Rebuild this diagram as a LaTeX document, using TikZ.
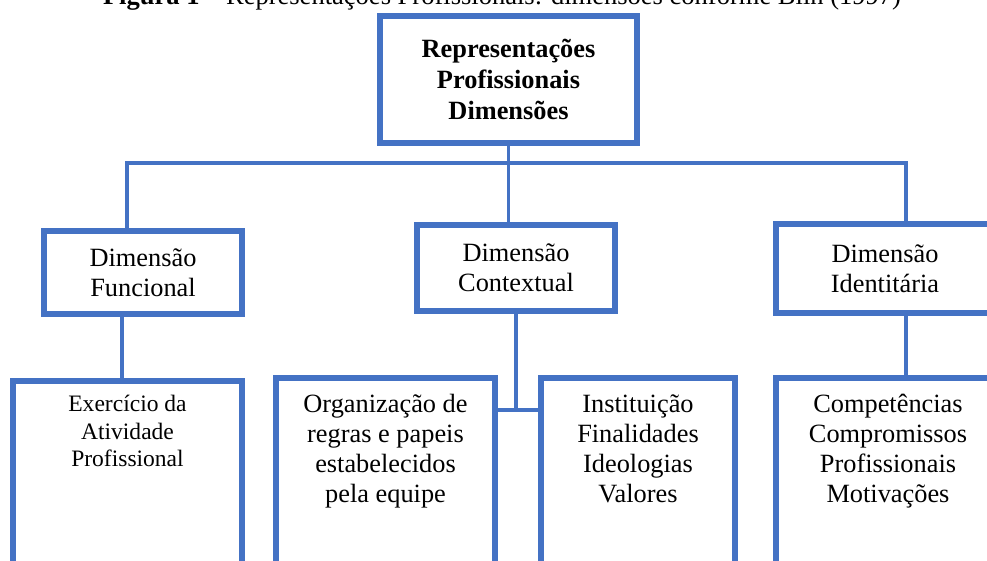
\documentclass[tikz,border=0pt]{standalone}
\usepackage{fontspec}
\setmainfont{Liberation Serif}
\definecolor{boxblue}{HTML}{4472C4}
\usetikzlibrary{positioning}

\begin{document}
\begin{tikzpicture}[x=0.02cm, y=-0.02cm,
  dimbox/.style={draw=boxblue, line width=0.12cm, align=center, inner sep=0pt,
    font=\fontsize{15}{17}\selectfont},
  itembox/.style={draw=boxblue, line width=0.12cm, anchor=north, minimum height=5cm},
  itemtext/.style={align=center, inner sep=0pt, font=\fontsize{15}{17.1}\selectfont},
  link/.style={draw=boxblue, line width=0.066cm}]
  \clip (0,0) rectangle (987,561);
  % caption, cut by the top edge
  \node[anchor=base, inner sep=0pt, font=\fontsize{15.1}{17}\selectfont] (caption) at (502,5)
    {\textbf{Figura 1} – Representações Profissionais: dimensões conforme Blin (1997)};
  % root and the three dimensions
  \node[dimbox, font=\fontsize{15}{17.6}\selectfont\bfseries,
    minimum width=5.14cm, minimum height=2.54cm] (root) at (508.5,79.5)
    {Representações\\Profissionais\\Dimensões};
  \node[dimbox, minimum width=3.96cm, minimum height=1.66cm] (func) at (143,272.5)
    {Dimensão\\Funcional};
  \node[dimbox, minimum width=3.96cm, minimum height=1.72cm] (ctx) at (516,268)
    {Dimensão\\Contextual};
  \node[dimbox, minimum width=4.36cm, minimum height=1.78cm] (ident) at (885,268.5)
    {Dimensão\\Identitária};
  % lower boxes, open at the bottom edge
  \node[itembox, minimum width=4.58cm] (exer) at (127.5,378) {};
  \node[itemtext, font=\fontsize{13.4}{15.6}\selectfont, below=0.34cm of exer.north]
    (exertext) {Exercício da\\Atividade\\Profissional};
  \node[itembox, minimum width=4.4cm] (org) at (385.5,375) {};
  \node[itemtext, below=0.38cm of org.north] (orgtext)
    {Organização de\\regras e papeis\\estabelecidos\\pela equipe};
  \node[itembox, minimum width=3.9cm] (inst) at (638,375) {};
  \node[itemtext, below=0.39cm of inst.north] (insttext)
    {Instituição\\Finalidades\\Ideologias\\Valores};
  \node[itembox, minimum width=4.48cm] (comp) at (888,375) {};
  \node[itemtext, below=0.38cm of comp.north] (comptext)
    {Competências\\Compromissos\\Profissionais\\Motivações};
  % connectors
  \coordinate (busL) at (127,163);
  \coordinate (busR) at (906,163);
  \coordinate (fdrop) at (122,340);
  \coordinate (ctxjoin) at (516,410);
  \draw[link] (busL |- func.north) -- (busL) -- (busR) -- (busR |- ident.north);
  \draw[link] (root.south) -- (root.south |- ctx.north);
  \draw[link] (fdrop |- func.south) -- (fdrop |- exer.north);
  \draw[link] (busR |- ident.south) -- (busR |- comp.north);
  \draw[link] (ctx.south) -- (ctxjoin);
  \draw[link] (org.east |- ctxjoin) -- (inst.west |- ctxjoin);
\end{tikzpicture}
\end{document}
